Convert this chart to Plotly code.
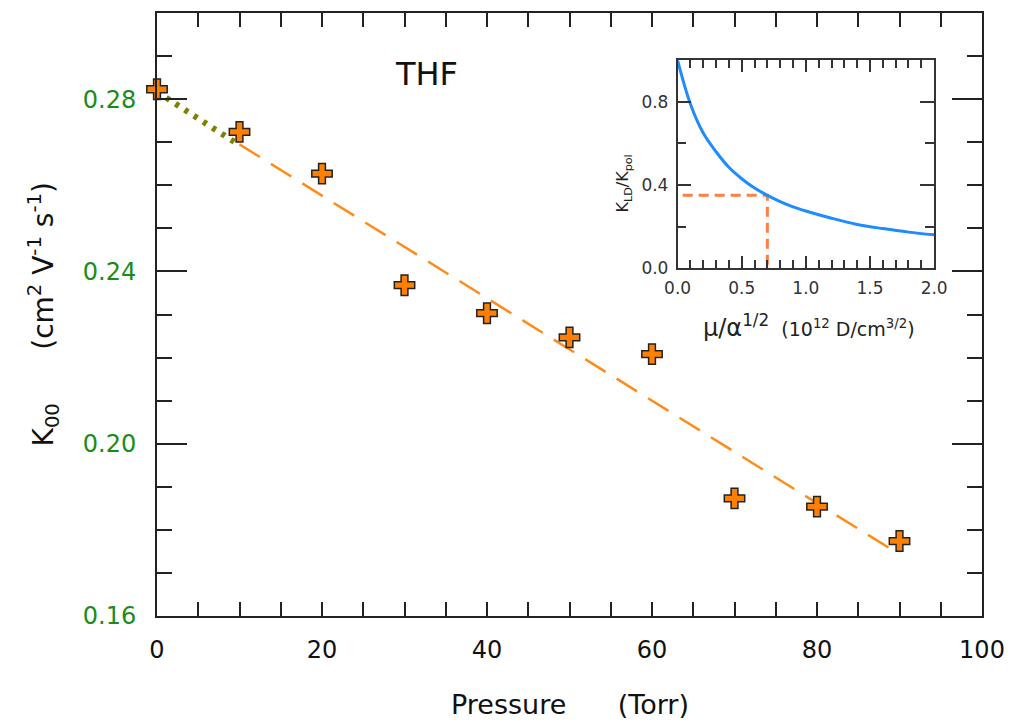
import plotly.graph_objects as go

# ---- main data ----
pressure = [0, 10, 20, 30, 40, 50, 60, 70, 80, 90]
k00 = [0.2823, 0.2724, 0.2627, 0.2368, 0.2303, 0.2247, 0.2208, 0.1873, 0.1854, 0.1774]

fit_dot_x = [0, 10]
fit_dot_y = [0.2817, 0.2693]
fit_dash_x = [10, 90]
fit_dash_y = [0.2695, 0.1743]

# ---- inset data ----
mu_alpha = [0.0, 0.1, 0.2, 0.3, 0.4, 0.5, 0.6, 0.7, 0.8, 0.9, 1.0, 1.2, 1.4, 1.6, 1.8, 2.0]
k_ratio = [1.0, 0.79, 0.65, 0.56, 0.485, 0.43, 0.385, 0.35, 0.32, 0.295, 0.275, 0.24, 0.21, 0.19, 0.173, 0.16]
guide_x = [0.04, 0.7, 0.7]
guide_y = [0.35, 0.35, 0.0]

FONT = "DejaVu Sans, Arial, sans-serif"
AX = "#222222"

fig = go.Figure()

# main traces
fig.add_trace(go.Scatter(x=fit_dot_x, y=fit_dot_y, mode="lines",
                         line=dict(color="#808000", width=6, dash="4px,7px"),
                         showlegend=False, hoverinfo="skip"))
fig.add_trace(go.Scatter(x=fit_dash_x, y=fit_dash_y, mode="lines",
                         line=dict(color="#FF8C1A", width=2.5, dash="24px,13px"),
                         showlegend=False, hoverinfo="skip"))
fig.add_trace(go.Scatter(x=pressure, y=k00, mode="markers",
                         marker=dict(symbol="cross", size=17, color="#FF8000",
                                     line=dict(color="#222222", width=1.5)),
                         showlegend=False, cliponaxis=False))

# inset traces
fig.add_trace(go.Scatter(x=guide_x, y=guide_y, mode="lines", xaxis="x2", yaxis="y2",
                         line=dict(color="#FF7F45", width=3, dash="10px,6px"),
                         showlegend=False, hoverinfo="skip"))
fig.add_trace(go.Scatter(x=mu_alpha, y=k_ratio, mode="lines", xaxis="x2", yaxis="y2",
                         line=dict(color="#1E8CFF", width=3, shape="spline"),
                         showlegend=False, cliponaxis=False))

fig.update_layout(
    width=1016, height=721,
    margin=dict(l=157, r=29, t=11, b=105),
    paper_bgcolor="white", plot_bgcolor="white",
    font=dict(family=FONT, color="#222222"),
    xaxis=dict(domain=[0, 1], range=[0, 100], tickvals=[0, 20, 40, 60, 80, 100],
               ticks="inside", ticklen=14, tickwidth=1.5, tickcolor=AX,
               minor=dict(dtick=5, ticks="inside", ticklen=14, tickwidth=1.5, tickcolor=AX),
               showline=True, linecolor=AX, linewidth=2, mirror="ticks",
               showgrid=False, zeroline=False,
               tickfont=dict(size=24, color="#111111"), ticklabelstandoff=11),
    yaxis=dict(domain=[0, 1], range=[0.16, 0.30], tickvals=[0.16, 0.20, 0.24, 0.28],
               tickformat=".2f",
               ticks="inside", ticklen=30, tickwidth=1.5, tickcolor=AX,
               minor=dict(dtick=0.01, ticks="inside", ticklen=15, tickwidth=1.5, tickcolor=AX),
               showline=True, linecolor=AX, linewidth=2, mirror="ticks",
               showgrid=False, zeroline=False,
               tickfont=dict(size=24, color="#1A8C1A"), ticklabelstandoff=14),
    xaxis2=dict(domain=[0.631, 0.942], anchor="y2", range=[0, 2.0], dtick=0.5,
                tickformat=".1f",
                ticks="inside", ticklen=12, tickwidth=1.5, tickcolor="#333333",
                minor=dict(dtick=0.1, ticks="inside", ticklen=8, tickwidth=1.5, tickcolor="#333333"),
                showline=True, linecolor="#333333", linewidth=1.5, mirror="ticks",
                showgrid=False, zeroline=False,
                tickfont=dict(size=17, color="#333333"), ticklabelstandoff=4),
    yaxis2=dict(domain=[0.577, 0.9215], anchor="x2", range=[0, 1.0],
                tickvals=[0.0, 0.4, 0.8], tickformat=".1f",
                ticks="inside", ticklen=14, tickwidth=1.5, tickcolor="#333333",
                minor=dict(dtick=0.2, ticks="inside", ticklen=9, tickwidth=1.5, tickcolor="#333333"),
                showline=True, linecolor="#333333", linewidth=1.5, mirror="ticks",
                showgrid=False, zeroline=False,
                tickfont=dict(size=17, color="#333333"), ticklabelstandoff=4),
    shapes=[dict(type="rect", xref="x2 domain", yref="y2 domain", x0=0, x1=1, y0=0, y1=1,
                 fillcolor="#FFFFF0", line=dict(width=0), layer="below")],
    annotations=[
        dict(text="THF", x=0.3265, y=0.899, xref="paper", yref="paper",
             showarrow=False, font=dict(size=32, color="#111111"),
             xanchor="center", yanchor="middle"),
        dict(text="Pressure      (Torr)", x=0.5, y=-0.147, xref="paper", yref="paper",
             showarrow=False, font=dict(size=27, color="#111111"),
             xanchor="center", yanchor="middle"),
        dict(text="K<sub>00</sub>      (cm<sup>2</sup> V<sup>-1</sup> s<sup>-1</sup>)",
             x=-0.137, y=0.5, xref="paper", yref="paper", textangle=-90,
             showarrow=False, font=dict(size=28, color="#111111"),
             xanchor="center", yanchor="middle"),
        dict(text="K<sub>LD</sub>/K<sub>pol</sub>", x=0.566, y=0.717,
             xref="paper", yref="paper", textangle=-90,
             showarrow=False, font=dict(size=16, color="#222222"),
             xanchor="center", yanchor="middle"),
        dict(text='<span style="font-size:24px">μ/α<sup>1/2</sup></span>  (10<sup>12</sup> D/cm<sup>3/2</sup>)',
             x=0.790, y=0.481, xref="paper", yref="paper",
             showarrow=False, font=dict(size=19, color="#222222"),
             xanchor="center", yanchor="middle"),
    ],
)

fig.write_html("out.html")
